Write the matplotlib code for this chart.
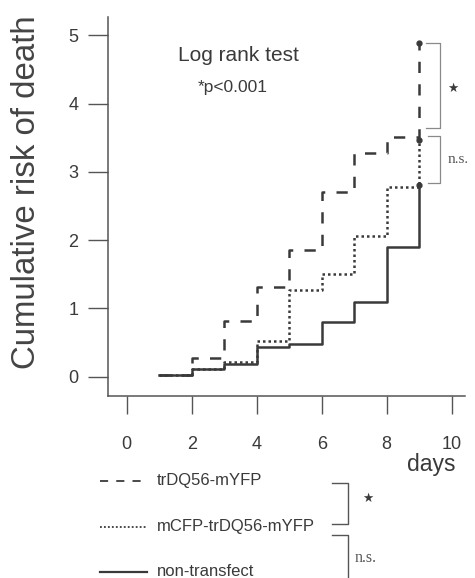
import matplotlib
matplotlib.use("Agg")
import matplotlib.pyplot as plt

plt.rcParams['font.family'] = ['Liberation Sans', 'DejaVu Sans']

# cumulative risk of death, value held from each day onward
days = [1, 2, 3, 4, 5, 6, 7, 8, 9]
risk_trdq = [0.03, 0.28, 0.81, 1.31, 1.85, 2.70, 3.27, 3.51, 4.89]
risk_mcfp = [0.03, 0.11, 0.21, 0.53, 1.27, 1.51, 2.06, 2.78, 3.47]
risk_nontr = [0.03, 0.11, 0.18, 0.44, 0.48, 0.80, 1.10, 1.90, 2.81]

labels = ["trDQ56-mYFP", "mCFP-trDQ56-mYFP", "non-transfect"]
styles = [(0, (4.5, 4.5)), (0, (1, 1.2)), "-"]
x_ticks = [0, 2, 4, 6, 8, 10]
y_ticks = [0, 1, 2, 3, 4, 5]

ink = "#3a3a3a"
light = "#8a8a8a"

fig = plt.figure(figsize=(4.75, 5.78), dpi=100)
ax = fig.add_axes([0.2274, 0.3149, 0.7516, 0.6557])

series = [risk_trdq, risk_mcfp, risk_nontr]
for vals, ls in zip(series, styles):
    ax.step(days, vals, where="post", color=ink, lw=1.8, linestyle=ls)
    ax.plot(days[-1], vals[-1], "o", color=ink, ms=3.5)

ax.set_xlim(-0.575, 10.41)
ax.set_ylim(-0.283, 5.27)
ax.set_xticks(x_ticks)
ax.set_yticks(y_ticks)
ax.tick_params(axis="x", length=13, width=1.0, pad=16, labelsize=13,
               color="#555555", labelcolor=ink)
ax.tick_params(axis="y", length=14.5, width=1.0, pad=7, labelsize=13,
               color="#555555", labelcolor=ink)
for s in ["top", "right"]:
    ax.spines[s].set_visible(False)
for s in ["left", "bottom"]:
    ax.spines[s].set_color("#555555")
    ax.spines[s].set_linewidth(1.1)

ax.set_ylabel("Cumulative risk of death", fontsize=23.8, color="#444444")
ax.yaxis.set_label_coords(-0.185, 0.538)
ax.text(9.36, -1.29, "days", fontsize=16.5, color=ink, ha="center", va="center",
        clip_on=False)

ax.text(3.43, 4.71, "Log rank test", fontsize=15, color=ink, ha="center", va="center")
ax.text(3.27, 4.23, "*p<0.001", fontsize=12.5, color=ink, ha="center", va="center")

# significance brackets at the end of the curves
x0, x1 = 9.2, 9.64
ax.plot([x0, x1, x1, x0], [risk_trdq[-1], risk_trdq[-1], 3.64, 3.64],
        color=light, lw=0.9, clip_on=False)
ax.plot([9.27, x1, x1, 9.27], [3.52, 3.52, 2.84, 2.84],
        color=light, lw=0.9, clip_on=False)
ax.text(10.04, 4.23, "\u2605", family="DejaVu Sans", fontsize=9, color=ink,
        ha="center", va="center", clip_on=False)
ax.text(9.86, 3.18, "n.s.", family="Liberation Serif", fontsize=11, color="#555555",
        ha="left", va="center", clip_on=False)

# legend drawn below the axes in pixel coordinates
lg = fig.add_axes([0, 0, 1, 1])
lg.set_xlim(0, 475)
lg.set_ylim(578, 0)
lg.axis("off")
lg.patch.set_alpha(0)
for i, (lab, ls) in enumerate(zip(labels, styles)):
    yy = 481 + i * 45.5
    lg.plot([100, 147], [yy, yy], color=ink, lw=1.6 if ls == "-" else 1.3, linestyle=ls)
    lg.text(157, yy, lab, fontsize=12, color=ink, ha="left", va="center")
lg.plot([332, 348, 348, 332], [483, 483, 524, 524], color="#555555", lw=1.0)
lg.plot([332, 348, 348], [535, 535, 580], color="#555555", lw=1.0)
lg.text(368, 498, "\u2605", family="DejaVu Sans", fontsize=9, color=ink,
        ha="center", va="center")
lg.text(355, 558, "n.s.", family="Liberation Serif", fontsize=11.5, color="#555555",
        ha="left", va="center")

fig.savefig("out.png", dpi=100)
